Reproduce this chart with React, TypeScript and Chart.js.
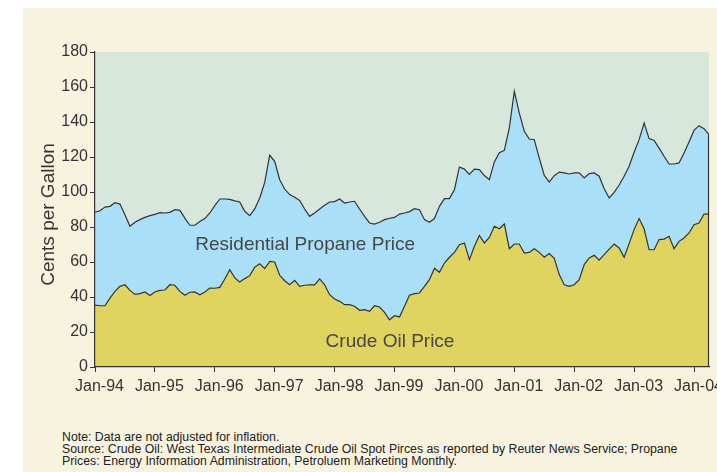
import React, { useEffect, useRef } from 'react';
import { Chart, registerables } from 'chart.js';

Chart.register(...registerables);

const monthNames = ['Jan', 'Feb', 'Mar', 'Apr', 'May', 'Jun', 'Jul', 'Aug', 'Sep', 'Oct', 'Nov', 'Dec'];
const yearLabels = ['94', '95', '96', '97', '98', '99', '00', '01', '02', '03', '04'];

// Residential propane price, cents per gallon (Jan-94 .. Apr-04)
const propane = [
  88.4, 89.3, 91.4, 91.8, 93.9, 93.1, 87.0, 80.4, 82.7, 84.2, 85.5, 86.5,
  87.2, 88.2, 88.0, 88.4, 89.9, 89.5, 85.1, 81.0, 81.0, 83.2, 84.8, 88.0,
  92.2, 96.0, 96.0, 95.8, 94.9, 94.3, 89.0, 86.5, 90.3, 96.6, 105.5, 121.0,
  117.5, 107.0, 101.7, 98.5, 97.0, 95.2, 90.3, 86.1, 88.0, 90.3, 92.4, 94.3,
  94.5, 96.0, 93.7, 94.3, 94.7, 90.3, 86.1, 82.3, 81.7, 82.7, 84.2, 85.0,
  85.5, 87.4, 88.0, 88.8, 90.5, 89.9, 84.2, 82.7, 84.8, 91.8, 96.2, 96.2,
  101.3, 114.3, 113.1, 110.1, 113.1, 112.8, 109.4, 107.0, 117.2, 122.5, 123.8, 136.6,
  157.5, 145.1, 134.7, 130.3, 129.9, 119.4, 109.5, 105.7, 109.3, 111.4, 110.9, 110.3,
  110.9, 110.9, 108.0, 110.5, 110.9, 109.0, 101.9, 96.6, 99.8, 104.0, 109.0, 114.7,
  122.7, 129.9, 139.4, 130.5, 129.5, 125.1, 120.4, 116.0, 116.0, 116.6, 122.3, 128.6,
  135.2, 137.9, 136.2, 132.8,
];

// Crude oil price, cents per gallon (Jan-94 .. Apr-04)
const crude = [
  35.4, 35.0, 35.0, 39.4, 43.2, 46.1, 47.0, 43.8, 41.5, 41.9, 42.9, 40.8,
  42.9, 43.8, 44.0, 47.0, 46.7, 43.2, 41.0, 42.7, 42.9, 41.3, 42.9, 45.1,
  45.0, 45.5, 50.3, 55.6, 50.9, 48.6, 50.5, 52.2, 57.1, 59.0, 56.2, 60.4,
  60.0, 52.4, 49.3, 47.0, 49.5, 46.1, 46.7, 47.0, 46.9, 50.3, 47.0, 41.3,
  38.9, 37.5, 35.6, 35.6, 34.7, 32.4, 32.8, 31.8, 35.0, 34.3, 31.2, 27.0,
  29.3, 28.6, 34.7, 41.0, 41.9, 42.3, 46.1, 49.9, 56.4, 54.1, 59.4, 62.7,
  65.5, 69.9, 70.9, 61.3, 69.0, 75.2, 70.9, 74.0, 80.4, 79.0, 81.7, 67.6,
  70.3, 70.3, 65.1, 65.5, 67.6, 65.5, 62.7, 64.8, 62.1, 52.8, 47.0, 46.1,
  47.0, 49.9, 58.5, 62.3, 63.8, 61.0, 64.2, 67.4, 70.3, 68.0, 62.7, 70.5,
  78.5, 84.8, 79.0, 67.0, 67.0, 72.8, 73.1, 74.7, 67.6, 71.8, 73.7, 76.6,
  81.3, 82.3, 87.4, 87.4,
];

const yTicks = [0, 20, 40, 60, 80, 100, 120, 140, 160, 180];

const categories: string[] = [];
for (let i = 0; i < propane.length; i++) {
  categories.push(monthNames[i % 12] + '-' + yearLabels[Math.floor(i / 12)]);
}

const CREAM = '#f8f3df';
const PLOT_BG = '#d8e7dc';
const BLUE = '#aadff8';
const YELLOW = '#e0d460';
const LINE = '#333333';
const TEXT = '#333333';
const FONT = '"Liberation Sans", Arial, Helvetica, sans-serif';

export default function App() {
  const ref = useRef<HTMLCanvasElement | null>(null);

  useEffect(() => {
    if (!ref.current) return;
    const decor = {
      id: 'decor',
      beforeDraw(chart: any) {
        const { ctx, chartArea } = chart;
        ctx.save();
        ctx.fillStyle = PLOT_BG;
        ctx.fillRect(chartArea.left, chartArea.top, chartArea.right - chartArea.left, chartArea.bottom - chartArea.top);
        ctx.restore();
      },
      afterDatasetsDraw(chart: any) {
        const { ctx, chartArea, scales } = chart;
        const xs = scales.x;
        const ys = scales.y;
        ctx.save();
        ctx.strokeStyle = LINE;
        ctx.lineWidth = 1.2;
        ctx.beginPath();
        ctx.moveTo(chartArea.right - 0.5, ys.getPixelForValue(propane[propane.length - 1]));
        ctx.lineTo(chartArea.right - 0.5, chartArea.bottom);
        ctx.stroke();
        ctx.fillStyle = '#474747';
        ctx.font = '19px ' + FONT;
        ctx.textAlign = 'center';
        ctx.textBaseline = 'middle';
        ctx.fillText('Residential Propane Price', xs.getPixelForValue(42.1), ys.getPixelForValue(69.7));
        ctx.fillText('Crude Oil Price', xs.getPixelForValue(59.1), ys.getPixelForValue(14.5));
        ctx.fillStyle = TEXT;
        ctx.translate(chartArea.left - 46.5, (chartArea.top + chartArea.bottom) / 2 + 5);
        ctx.rotate(-Math.PI / 2);
        ctx.fillText('Cents per Gallon', 0, 0);
        ctx.restore();
      },
    };

    const chart = new Chart(ref.current, {
      type: 'line',
      data: {
        labels: categories,
        datasets: [
          {
            label: 'Crude Oil Price',
            data: crude,
            borderColor: LINE,
            borderWidth: 1.2,
            backgroundColor: YELLOW,
            fill: 'origin',
            pointRadius: 0,
            tension: 0,
          },
          {
            label: 'Residential Propane Price',
            data: propane,
            borderColor: LINE,
            borderWidth: 1.2,
            backgroundColor: BLUE,
            fill: '-1',
            pointRadius: 0,
            tension: 0,
          },
        ],
      },
      options: {
        responsive: false,
        animation: false,
        layout: { padding: { left: 0, top: 44, right: 34, bottom: 11 } },
        plugins: { legend: { display: false }, tooltip: { enabled: false } },
        scales: {
          x: {
            type: 'category',
            offset: false,
            afterFit: (s: any) => { s.height = 30; },
            grid: {
              drawOnChartArea: false,
              drawTicks: true,
              tickLength: 5,
              color: (c: any) => (c.index % 12 === 0 ? LINE : 'rgba(0,0,0,0)'),
              lineWidth: 1,
            },
            border: { display: true, color: LINE, width: 1.2, z: 1 },
            ticks: {
              autoSkip: false,
              maxRotation: 0,
              minRotation: 0,
              padding: 5,
              labelOffset: 4.5,
              color: TEXT,
              font: { family: FONT, size: 16 },
              callback: (_v: any, i: number) => (i % 12 === 0 ? categories[i] : ''),
            },
          },
          y: {
            min: 0,
            max: 180,
            afterFit: (s: any) => { s.width = 72; },
            afterBuildTicks: (s: any) => { s.ticks = yTicks.map((v) => ({ value: v })); },
            grid: { drawOnChartArea: false, drawTicks: true, tickLength: 5, color: LINE, lineWidth: 1 },
            border: { display: true, color: LINE, width: 1.2, z: 1 },
            ticks: { padding: 2, color: TEXT, font: { family: FONT, size: 16 } },
          },
        },
      },
      plugins: [decor],
    });
    return () => chart.destroy();
  }, []);

  return (
    <div
      style={{
        position: 'fixed',
        left: 23,
        top: 8,
        width: 694,
        height: 464,
        background: CREAM,
        overflow: 'hidden',
      }}
    >
      <canvas ref={ref} width={720} height={400} style={{ position: 'absolute', left: 0, top: 0, width: 720, height: 400 }} />
      <div
        style={{
          position: 'absolute',
          left: 39,
          top: 423,
          fontFamily: FONT,
          fontSize: '12.3px',
          lineHeight: '12px',
          color: '#222',
          whiteSpace: 'nowrap',
        }}
      >
        <div>Note: Data are not adjusted for inflation.</div>
        <div>Source: Crude Oil: West Texas Intermediate Crude Oil Spot Pirces as reported by Reuter News Service; Propane</div>
        <div>Prices: Energy Information Administration, Petroluem Marketing Monthly.</div>
      </div>
    </div>
  );
}
